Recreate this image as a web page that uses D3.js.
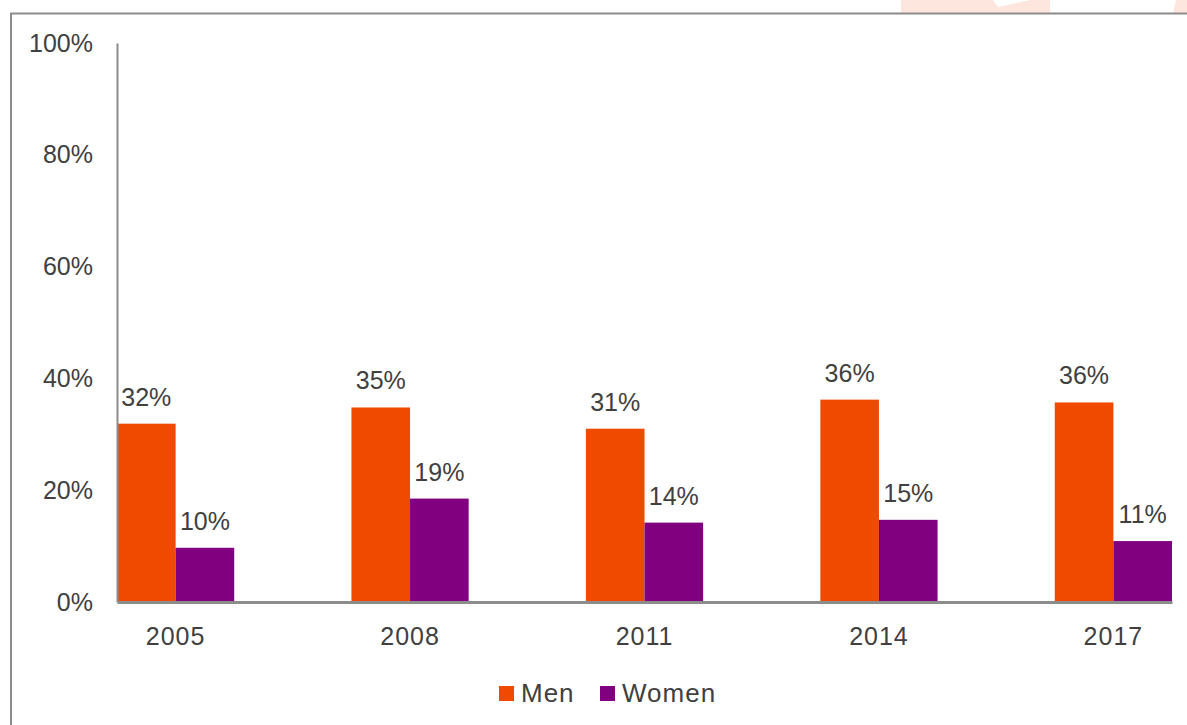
<!DOCTYPE html>
<html>
<head>
<meta charset="utf-8">
<script src="https://cdn.jsdelivr.net/npm/d3@7"></script>
<style>
	body { margin: 0; background: #fff; }
	svg { display: block; font-family: "Liberation Sans", Arial, sans-serif; }
</style>
</head>
<body>
<div id="graph"></div>
<script>
// values, share of each group
var years = ["2005", "2008", "2011", "2014", "2017"];
var men = [0.319, 0.348, 0.310, 0.362, 0.357];
var women = [0.097, 0.185, 0.142, 0.147, 0.109];
var seriesNames = ["Men", "Women"];
var yTicks = [0, 0.2, 0.4, 0.6, 0.8, 1];

var colors = { Men: "#f04a00", Women: "#800080" };
var textColor = "#404040", axisColor = "#8c8c8c";
var fontFamily = "Liberation Sans, Arial, sans-serif";

var width = 1187, height = 725;

var svg = d3.select("#graph").append("svg")
	.attr("width", width)
	.attr("height", height);

// faint bits of a logo peeking above the frame
svg.append("path")
	.attr("d", "M901,0 L993,0 L998,7 L1030,0 L1050,0 L1050,14 L901,14 Z")
	.attr("fill", "#fde6de");
svg.append("path")
	.attr("d", "M1176,0 L1187,0 L1187,14 L1173,14 Z")
	.attr("fill", "#fde6de");

// outer frame, runs off the right and bottom
svg.append("rect")
	.attr("x", 11).attr("y", 13.5)
	.attr("width", 1400).attr("height", 900)
	.attr("fill", "none")
	.attr("stroke", axisColor)
	.attr("stroke-width", 2);

var x = d3.scaleBand()
	.domain(years)
	.range([117, 1172])
	.paddingInner(0.5)
	.paddingOuter(0);

var x1 = d3.scaleBand()
	.domain(seriesNames)
	.range([0, x.bandwidth()]);

var y = d3.scaleLinear()
	.domain([0, 1])
	.range([602, 43]);

var rows = years.map(function (yr, i) {
	return { year: yr, Men: men[i], Women: women[i] };
});

var groups = svg.selectAll("g.year")
	.data(rows)
	.enter().append("g")
	.attr("class", "year")
	.attr("transform", function (d) { return "translate(" + x(d.year) + ",0)"; });

var bars = groups.selectAll("g.bar")
	.data(function (d) {
		return seriesNames.map(function (s) { return { key: s, value: d[s] }; });
	})
	.enter().append("g")
	.attr("class", "bar");

bars.append("rect")
	.attr("x", function (d) { return x1(d.key); })
	.attr("y", function (d) { return y(d.value); })
	.attr("width", x1.bandwidth())
	.attr("height", function (d) { return y(0) - y(d.value); })
	.attr("fill", function (d) { return colors[d.key]; });

bars.append("text")
	.attr("x", function (d) { return x1(d.key) + x1.bandwidth() / 2; })
	.attr("y", function (d) { return y(d.value) - 18; })
	.attr("text-anchor", "middle")
	.attr("font-size", 25)
	.attr("fill", textColor)
	.text(function (d) { return d3.format(".0%")(d.value); });

// y axis
var yAxis = d3.axisLeft(y)
	.tickValues(yTicks)
	.tickFormat(d3.format(".0%"))
	.tickSize(0)
	.tickPadding(24);

var yg = svg.append("g")
	.attr("transform", "translate(117,0)")
	.call(yAxis);
yg.select(".domain").attr("stroke", axisColor).attr("stroke-width", 2);
yg.selectAll("text")
	.attr("font-size", 25)
	.attr("font-family", fontFamily)
	.attr("fill", textColor);

// x axis
var xAxis = d3.axisBottom(x)
	.tickSize(0)
	.tickPadding(25);

var xg = svg.append("g")
	.attr("transform", "translate(0,602)")
	.call(xAxis);
xg.select(".domain").attr("stroke", axisColor).attr("stroke-width", 3);
xg.selectAll("text")
	.attr("font-size", 25)
	.attr("letter-spacing", 1)
	.attr("font-family", fontFamily)
	.attr("fill", textColor);

// legend
var legendX = [499, 600];
var legend = svg.selectAll("g.legend")
	.data(seriesNames)
	.enter().append("g")
	.attr("class", "legend")
	.attr("transform", function (d, i) { return "translate(" + legendX[i] + ",686)"; });

legend.append("rect")
	.attr("width", 15).attr("height", 15)
	.attr("fill", function (d) { return colors[d]; });

legend.append("text")
	.attr("x", 22).attr("y", 16)
	.attr("font-size", 26)
	.attr("letter-spacing", 1)
	.attr("fill", textColor)
	.text(function (d) { return d; });
</script>
</body>
</html>
